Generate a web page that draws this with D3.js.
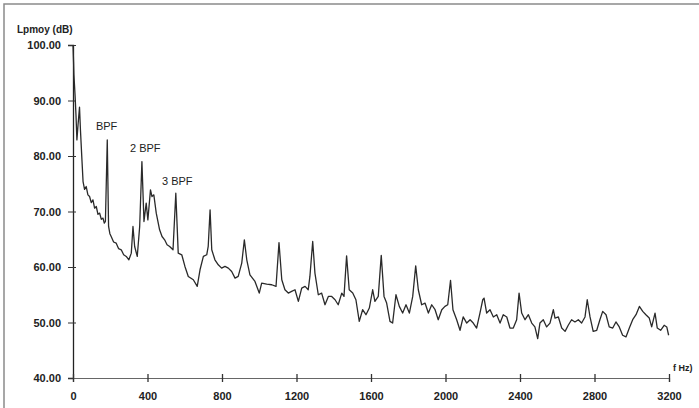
<html>
<style>
body { margin: 0; background: #fff; }
text { font-family: "Liberation Sans", Arial, sans-serif; }
</style>
<body>
<script src="https://cdn.jsdelivr.net/npm/d3@7"></script>
<script>

var width = 699,
    height = 408;

// spectrum: frequency (Hz) and level (dB)
var freq = [0, 3, 5, 11, 16, 21, 27, 35, 40, 48, 54, 62, 71, 80, 89, 98, 107, 116, 125, 134,
  143, 152, 161, 168, 174, 184, 191, 198, 205, 218, 232, 245, 259, 272, 286, 300, 313, 322, 331, 345,
  358, 370, 381, 393, 402, 416, 424, 434, 447, 465, 478, 492, 505, 519, 537, 552, 565, 584, 601, 619,
  646, 667, 682, 700, 718, 726, 736, 745, 762, 780, 798, 816, 834,
  852, 870, 887, 906, 920, 933, 950, 977, 1000, 1013, 1040, 1067, 1090, 1106, 1121, 1138, 1156, 1174, 1192, 1210,
  1228, 1246, 1263, 1272, 1287, 1299, 1317, 1335, 1353, 1371, 1389, 1407, 1424, 1443, 1455, 1469, 1483, 1502, 1519, 1537,
  1555, 1573, 1591, 1609, 1621, 1639, 1655, 1670, 1684, 1702, 1716, 1734, 1752, 1770, 1788, 1806, 1824, 1840, 1854, 1872,
  1890, 1908, 1926, 1944, 1961, 1980, 1997, 2012, 2027, 2040, 2060, 2078, 2095, 2114, 2132, 2149, 2167, 2185, 2200, 2207,
  2221, 2239, 2257, 2275, 2293, 2310, 2329, 2346, 2364, 2382, 2395, 2409, 2427, 2445, 2463, 2480, 2495, 2507, 2525, 2543,
  2561, 2579, 2588, 2606, 2624, 2642, 2659, 2677, 2695, 2713, 2731, 2749, 2761, 2776, 2793, 2812, 2829, 2844, 2862, 2879,
  2898, 2915, 2933, 2951, 2969, 2987, 3005, 3023, 3041, 3059, 3076, 3094, 3107, 3125, 3137, 3155, 3174, 3188, 3198];

var level = [100.0, 97.0, 94.6, 91.0, 87.4, 82.9, 85.6, 88.8, 84.7, 79.3, 75.4, 74.0, 74.5, 73.0, 72.7, 71.6, 72.1, 70.6, 70.9, 69.5,
  69.7, 68.6, 68.8, 67.9, 68.2, 82.9, 67.3, 66.0, 65.5, 64.5, 64.3, 63.3, 63.1, 62.2, 61.9, 61.3, 62.5, 67.3, 63.7, 61.9,
  67.3, 79.0, 68.2, 71.5, 68.5, 73.9, 72.7, 73.0, 69.7, 66.7, 65.5, 64.9, 64.0, 63.7, 63.1, 73.3, 62.5, 62.2, 60.1, 58.3,
  57.7, 56.5, 59.5, 61.9, 62.2, 63.7, 70.3, 63.1, 61.3, 60.4, 59.8, 60.1, 59.8,
  59.2, 58.0, 58.3, 60.7, 64.9, 61.3, 58.6, 57.4, 55.3, 57.1, 56.9, 56.8, 56.5, 64.4, 57.7, 55.9, 55.3, 55.6, 55.9, 53.8,
  56.2, 56.5, 55.9, 58.3, 64.6, 58.9, 55.0, 55.3, 53.2, 54.7, 54.7, 54.1, 53.2, 55.3, 54.7, 62.0, 55.9, 55.3, 54.1, 50.2,
  52.3, 51.4, 52.6, 55.9, 53.8, 54.7, 62.1, 54.7, 53.5, 50.2, 49.9, 55.0, 52.9, 51.7, 53.2, 51.7, 54.7, 60.2, 55.9, 53.2,
  53.5, 51.7, 53.2, 52.3, 50.5, 52.3, 52.9, 53.2, 57.6, 52.3, 50.5, 48.6, 51.0, 49.9, 50.5, 49.9, 49.0, 51.7, 54.1, 54.4,
  51.7, 52.3, 51.0, 51.4, 49.9, 51.4, 51.0, 49.0, 49.0, 50.5, 55.3, 51.7, 50.5, 51.4, 49.9, 49.2, 47.1, 49.9, 50.5, 49.2,
  49.9, 52.3, 50.8, 51.0, 49.0, 48.4, 49.5, 50.5, 50.1, 50.5, 49.9, 51.0, 54.1, 51.0, 48.4, 48.6, 50.5, 52.0, 51.4, 49.2,
  49.0, 50.1, 49.2, 47.7, 47.4, 49.0, 50.5, 51.4, 52.9, 52.0, 51.4, 50.8, 49.2, 51.7, 49.0, 48.6, 49.5, 49.2, 47.7];

var xTicks = [0, 400, 800, 1200, 1600, 2000, 2400, 2800, 3200];
var yTicks = [40, 50, 60, 70, 80, 90, 100];

var noteLabels = ["BPF", "2 BPF", "3 BPF"];
var noteFreq = [123, 306, 478];
var noteLevel = [84.7, 80.7, 74.8];

var x = d3.scaleLinear()
    .domain([0, 3200])
    .range([73, 669]);

var y = d3.scaleLinear()
    .domain([40, 100])
    .range([378, 45]);

var svg = d3.select("body").append("svg")
    .attr("width", width)
    .attr("height", height);

// scanned page frame
svg.append("rect")
    .attr("x", 4).attr("y", 4)
    .attr("width", 720).attr("height", 430)
    .attr("fill", "none")
    .attr("stroke", "#8a8a8a")
    .attr("stroke-width", 1.5);

var yAxis = svg.append("g")
    .attr("transform", "translate(" + x(0) + ",0)")
    .call(d3.axisLeft(y).tickValues(yTicks).tickSize(5).tickPadding(7).tickFormat(d3.format(".2f")));

yAxis.select(".domain").attr("stroke", "#222").attr("stroke-width", 1.3);
yAxis.selectAll(".tick line").attr("x1", 3).attr("stroke", "#333");
yAxis.selectAll(".tick text")
    .attr("font-size", 11)
    .attr("font-weight", "bold")
    .attr("fill", "#222");

var xAxis = svg.append("g")
    .attr("transform", "translate(0," + y(40) + ")")
    .call(d3.axisBottom(x).tickValues(xTicks).tickSize(4).tickPadding(10).tickFormat(d3.format("d")));

xAxis.select(".domain").attr("stroke", "#666").attr("stroke-width", 1.2);
xAxis.selectAll(".tick line").attr("y1", -4).attr("stroke", "#333").attr("stroke-width", 1.3);
xAxis.selectAll(".tick text")
    .attr("font-size", 11)
    .attr("font-weight", "bold")
    .attr("fill", "#222");

svg.append("text")
    .attr("x", 17).attr("y", 33)
    .attr("font-size", 10)
    .attr("font-weight", "bold")
    .attr("fill", "#222")
    .text("Lpmoy (dB)");

svg.append("text")
    .attr("x", 673).attr("y", 371)
    .attr("font-size", 9)
    .attr("font-weight", "bold")
    .attr("fill", "#222")
    .text("f Hz)");

var line = d3.line()
    .x(function(d, i) { return x(freq[i]); })
    .y(function(d) { return y(d); });

svg.append("path")
    .datum(level)
    .attr("d", line)
    .attr("fill", "none")
    .attr("stroke", "#2a2a2a")
    .attr("stroke-width", 1.3)
    .attr("stroke-linejoin", "round");

svg.selectAll(".note")
    .data(noteLabels)
    .enter().append("text")
    .attr("class", "note")
    .attr("x", function(d, i) { return x(noteFreq[i]); })
    .attr("y", function(d, i) { return y(noteLevel[i]); })
    .attr("font-size", 11)
    .attr("fill", "#222")
    .text(function(d) { return d; });

</script>
</body>
</html>
